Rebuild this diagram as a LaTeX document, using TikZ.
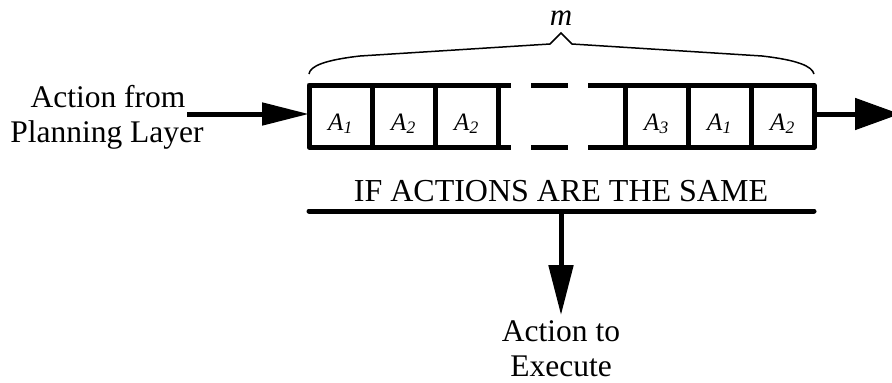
\documentclass[tikz,border=0pt]{standalone}
\usepackage{fontspec}
\setmainfont{Liberation Serif}
\usetikzlibrary{arrows.meta}
\begin{document}
\begin{tikzpicture}[x=1pt,y=-1pt,
  heavy/.style={line width=5pt},
  cell/.style={draw, line width=5pt, line join=round, minimum width=63pt,
    minimum height=62pt, inner sep=0pt, outer sep=0pt,
    text height=30pt, text depth=2pt,
    font=\fontsize{25}{29}\selectfont\itshape},
  word/.style={inner sep=0pt, outer sep=0pt, anchor=base,
    font=\fontsize{31.5}{36}\selectfont},
  inarrow/.style={line width=5pt, -{Triangle[length=47pt, width=22pt]}},
  outarrow/.style={line width=5pt, -{Triangle[length=45pt, width=31pt]}},
  downarrow/.style={line width=5pt, -{Triangle[length=50pt, width=24pt]}},
  brace/.style={line width=1.5pt, line join=miter},
]
\useasboundingbox (0,0) rectangle (892,383);

% queue cells
\node[cell] (c1) at (340.5,116) {A\textsubscript{1}};
\node[cell] (c2) at (403.5,116) {A\textsubscript{2}};
\node[cell] (c3) at (466.5,116) {A\textsubscript{2}};
\node[cell] (c4) at (656.5,116) {A\textsubscript{3}};
\node[cell] (c5) at (719.5,116) {A\textsubscript{1}};
\node[cell] (c6) at (782.5,116) {A\textsubscript{2}};

% broken middle section of the queue
\draw[heavy] (c3.north east) -- ++(13,0);
\draw[heavy] (c3.south east) -- ++(13,0);
\draw[heavy] (531,85) -- (568,85);
\draw[heavy] (531,147) -- (568,147);
\draw[heavy] (c4.north west) -- ++(-37,0);
\draw[heavy] (c4.south west) -- ++(-37,0);

% brace over the whole queue
\draw[brace] (309,74) .. controls (310,66) and (325,60) .. (360,56)
  -- (550,44) -- (561,33) -- (572,44) -- (762,56)
  .. controls (797,60) and (812,66) .. (814,74);
\node[inner sep=0pt, anchor=base, font=\fontsize{31}{34}\selectfont\itshape]
  (mlab) at (561,25) {m};

% incoming action
\node[word] (src1) at (108,107) {Action from};
\node[word] (src2) at (107,142) {Planning Layer};
\coordinate (in) at (187,114);
\draw[inarrow] (in) -- (in -| c1.west);

% outgoing action
\coordinate (out) at (900,114);
\draw[outarrow] (out -| c6.east) -- (out);

% comparison bar
\node[word, font=\fontsize{32}{36}\selectfont] (cond) at (561,201) {IF ACTIONS ARE THE SAME};
\coordinate (barL) at (309,211);
\coordinate (barR) at (814,211);
\draw[heavy, line cap=round] (barL) -- (barR);

% executed action
\node[word] (exec1) at (561,341) {Action to};
\node[word] (exec2) at (561,376) {Execute};
\draw[downarrow, shorten >=5pt] (cond.base |- barL) -- (exec1.north);
\end{tikzpicture}
\end{document}
